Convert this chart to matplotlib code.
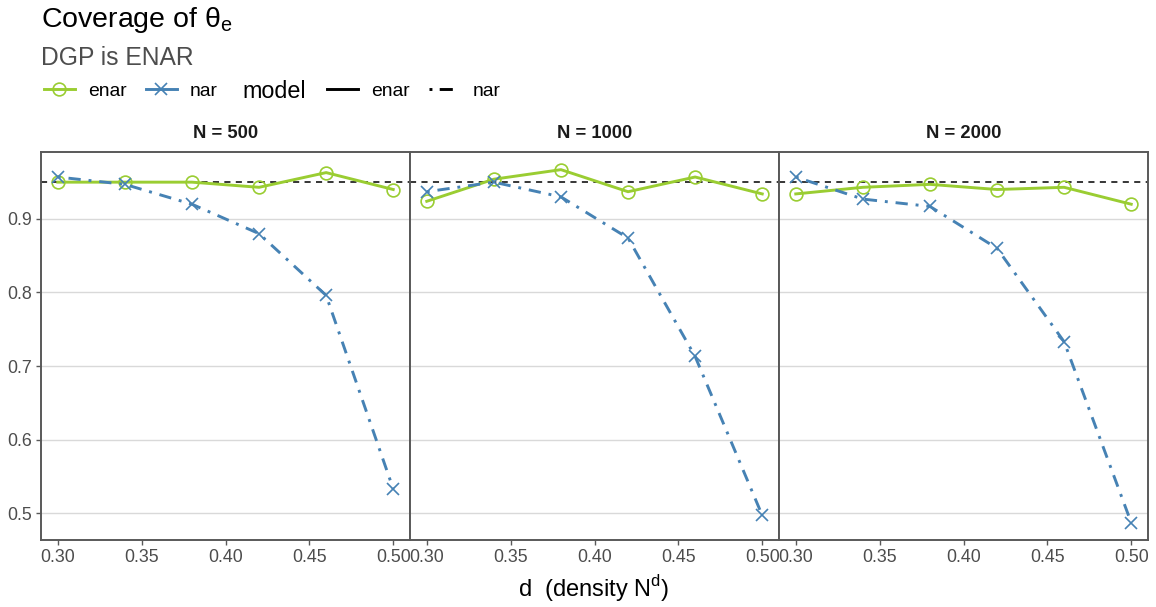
import numpy as np
import matplotlib
matplotlib.use("Agg")
import matplotlib.pyplot as plt
from matplotlib.lines import Line2D

plt.rcParams["font.family"] = ["Liberation Sans", "DejaVu Sans"]
plt.rcParams["mathtext.fontset"] = "custom"
plt.rcParams["mathtext.rm"] = "Liberation Sans"

C_ENAR = "#9ACD32"
C_NAR = "#4682B4"
GREY_TXT = "#4D4D4D"

d = [0.30, 0.34, 0.38, 0.42, 0.46, 0.50]
panels = ["N = 500", "N = 1000", "N = 2000"]
enar_cov = [
    [0.950, 0.950, 0.950, 0.943, 0.963, 0.940],
    [0.924, 0.954, 0.967, 0.937, 0.957, 0.934],
    [0.934, 0.943, 0.947, 0.940, 0.943, 0.920],
]
nar_cov = [
    [0.957, 0.947, 0.920, 0.880, 0.796, 0.533],
    [0.937, 0.950, 0.930, 0.874, 0.713, 0.497],
    [0.957, 0.927, 0.917, 0.860, 0.733, 0.487],
]
nominal = 0.95
xticks = [0.30, 0.35, 0.40, 0.45, 0.50]
yticks = [0.5, 0.6, 0.7, 0.8, 0.9]

W, H = 1156, 607
fig = plt.figure(figsize=(W / 100, H / 100), dpi=100)
gs = fig.add_gridspec(1, 3, left=41 / W, right=1148 / W, top=1 - 152 / H,
                      bottom=1 - 540 / H, wspace=0)
LW = 2.1
dash_dot = (0, (1, 2.7, 4.2, 2.7))  # ggplot "dotdash"

for i, name in enumerate(panels):
    ax = fig.add_subplot(gs[0, i])
    ax.axhline(nominal, color="black", lw=1.1, dashes=(4, 3.5), zorder=2)
    ax.plot(d, enar_cov[i], color=C_ENAR, lw=LW, marker="o", ms=9.2,
            mfc="none", mew=1.2, zorder=3)
    ax.plot(d, nar_cov[i], color=C_NAR, lw=LW, ls=dash_dot, marker="x",
            ms=9.2, mew=1.2, zorder=3)
    ax.set_xlim(0.29, 0.51)
    ax.set_ylim(0.4635, 0.991)
    ax.set_xticks(xticks)
    ax.set_xticklabels([f"{v:.2f}" for v in xticks])
    ax.set_yticks(yticks)
    ax.set_yticklabels([f"{v:.1f}" for v in yticks])
    ax.grid(axis="y", color="#D9D9D9", lw=1.0, zorder=0)
    ax.set_axisbelow(True)
    for s in ax.spines.values():
        s.set_color("#595959")
        s.set_linewidth(1.4)
    ax.tick_params(colors="#595959", labelcolor=GREY_TXT, labelsize=12.8,
                   length=3.5, width=1.0, pad=3)
    if i > 0:
        ax.tick_params(axis="y", length=0, labelleft=False)
    ax.annotate(name, xy=(0.5, 1), xycoords="axes fraction", xytext=(0, 13.5),
                textcoords="offset points", ha="center", va="center",
                fontsize=13.2, fontweight="bold", color="#1A1A1A")

fig.text(594 / W, 1 - 589 / H, "d  (density N$^\\mathregular{d}$)", ha="center",
         va="center", fontsize=17, color="black")
fig.text(41 / W, 1 - 27 / H, "Coverage of θ$_\\mathregular{e}$", ha="left",
         va="baseline", fontsize=20.5, color="black")
fig.text(41 / W, 1 - 65 / H, "DGP is ENAR", ha="left", va="baseline",
         fontsize=17.7, color=GREY_TXT)

leg_kw = dict(ncol=2, frameon=False, fontsize=13.9, handlelength=1.6,
              handletextpad=0.67, columnspacing=1.0, borderpad=0, borderaxespad=0)

# legend 1: colour / shape
h1 = [Line2D([], [], color=C_ENAR, lw=LW, marker="o", ms=9.2, mfc="none", mew=1.2),
      Line2D([], [], color=C_NAR, lw=LW, marker="x", ms=9.2, mew=1.2)]
fig.legend(h1, ["enar", "nar"], loc="center left",
           bbox_to_anchor=(44 / W, 1 - 91 / H), **leg_kw)

fig.text(242 / W, 1 - 91 / H, "model", ha="left", va="center", fontsize=16.8)

# legend 2: linetype
h2 = [Line2D([], [], color="black", lw=LW),
      Line2D([], [], color="black", lw=LW, ls=(0, (1, 2.5, 4.5, 10)))]
fig.legend(h2, ["enar", "nar"], loc="center left",
           bbox_to_anchor=(327 / W, 1 - 91 / H), **leg_kw)

fig.savefig("out.png", dpi=100)
